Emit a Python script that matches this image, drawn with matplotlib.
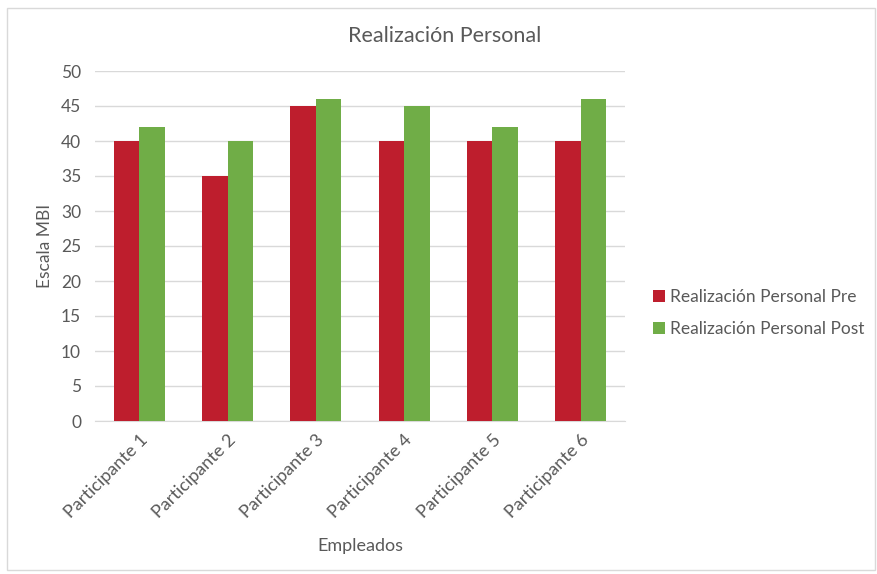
import matplotlib
matplotlib.use("Agg")
import matplotlib.pyplot as plt
import numpy as np
from matplotlib.patches import Rectangle

categories = ["Participante 1", "Participante 2", "Participante 3",
              "Participante 4", "Participante 5", "Participante 6"]
pre_values = [40, 35, 45, 40, 40, 40]
post_values = [42, 40, 46, 45, 42, 46]
series_names = ["Realización Personal Pre", "Realización Personal Post"]
y_ticks = [0, 5, 10, 15, 20, 25, 30, 35, 40, 45, 50]

plt.rcParams["font.family"] = ["Lato", "DejaVu Sans"]
text_color = "#595959"
red = "#BE1E2D"
green = "#70AD47"

fig = plt.figure(figsize=(8.77, 5.74), dpi=100)
fig.patches.append(Rectangle((7 / 877, 4 / 574), 868 / 877, 562 / 574,
                             transform=fig.transFigure, fill=False,
                             edgecolor="#D9D9D9", linewidth=1))

ax = fig.add_axes([95 / 877, 1 - 421 / 574, 530 / 877, 350 / 574])
x = np.arange(len(categories))
w = 0.29
ax.bar(x - w / 2, pre_values, width=w, color=red, label=series_names[0], zorder=3)
ax.bar(x + w / 2, post_values, width=w, color=green, label=series_names[1], zorder=3)

ax.set_xlim(-0.5, len(categories) - 0.5)
ax.set_ylim(0, 50)
ax.set_yticks(y_ticks)
ax.yaxis.grid(True, color="#D9D9D9", linewidth=1, zorder=0)
ax.set_axisbelow(True)
for s in ["top", "right", "left"]:
    ax.spines[s].set_visible(False)
ax.spines["bottom"].set_color("#D9D9D9")
ax.tick_params(axis="both", length=0, colors=text_color, labelsize=12.5)
ax.tick_params(axis="y", pad=10)
ax.set_xticks(x)
ax.set_xticklabels(categories, rotation=45, ha="right", rotation_mode="anchor",
                   fontsize=13)
ax.tick_params(axis="x", pad=8)

ax.set_ylabel("Escala MBI", color=text_color, fontsize=12.5, labelpad=6)
ax.set_xlabel("Empleados", color=text_color, fontsize=13, labelpad=12)
fig.text(445 / 877, 1 - 36 / 574, "Realización Personal", ha="center", va="center",
         color=text_color, fontsize=15.5)

leg = fig.legend(loc="center left", bbox_to_anchor=(637 / 877, 1 - 313 / 574),
                 frameon=False, fontsize=12.5, handlelength=0.7, handleheight=0.7,
                 handletextpad=0.3, labelspacing=0.9)
for t in leg.get_texts():
    t.set_color(text_color)

fig.savefig("out.png", dpi=100, facecolor="white")
